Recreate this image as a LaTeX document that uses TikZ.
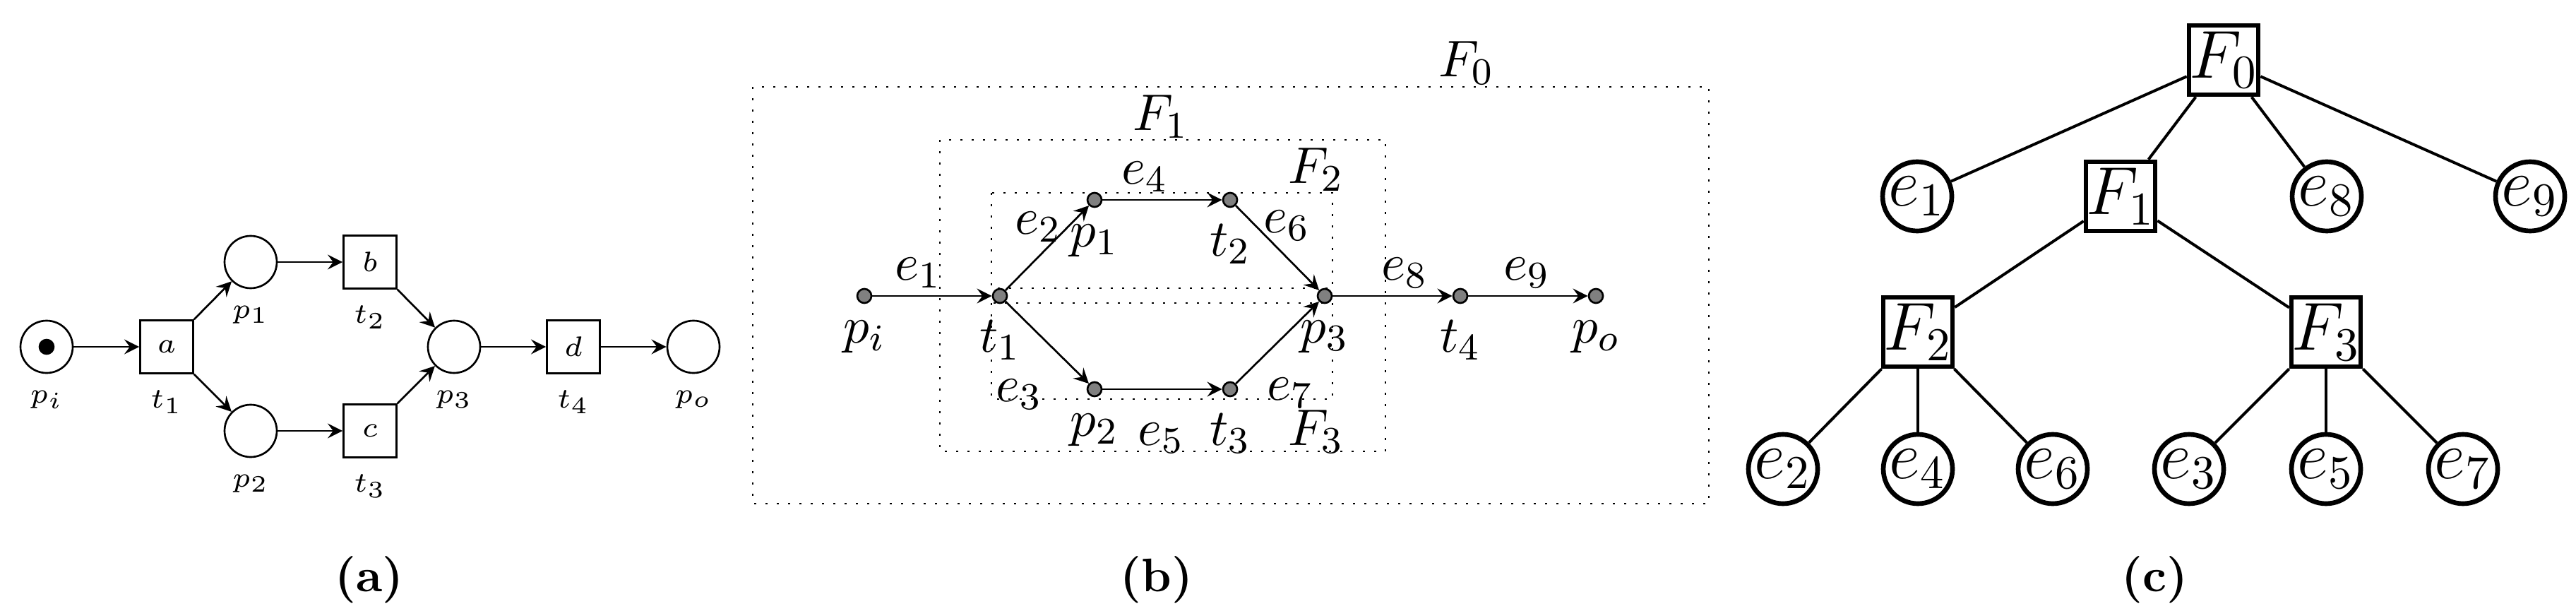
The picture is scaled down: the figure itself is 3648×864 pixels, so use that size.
\documentclass[tikz,border=0pt]{standalone}
\usetikzlibrary{arrows,scopes}
\begin{document}
\begin{tikzpicture}[
    x=0.15pt,y=-0.15pt,
    >=stealth,
    place/.style={circle,draw,thin,minimum size=11.1pt,inner sep=0pt},
    trans/.style={rectangle,draw,thin,minimum size=11.25pt,inner sep=0pt,font=\fontsize{6.5}{8}\selectfont},
    lblA/.style={font=\fontsize{6.2}{7}\selectfont},
    dot/.style={circle,draw,fill=gray,minimum size=3pt,inner sep=0pt,thin},
    lblB/.style={font=\fontsize{11}{13}\selectfont},
    frag/.style={draw,dotted,thin},
    fnode/.style={rectangle,draw,line width=1pt,minimum size=14.7pt,inner sep=0pt,font=\fontsize{14}{17}\selectfont},
    enode/.style={circle,draw,line width=1pt,minimum size=14.7pt,inner sep=0pt,font=\fontsize{14}{17}\selectfont},
    caption/.style={font=\fontsize{10}{12}\selectfont\bfseries},
    ]
\useasboundingbox (0,0) rectangle (3648,864);

    %% (a) Petri net
    \node[place,label={[lblA]below:$p_i$}] (pi) at (66,491) {};
    \fill (pi) circle (1.7pt);
    \node[trans,label={[lblA]below:$t_1$}] (t1) at (236,491) {$a$};
    \node[place,label={[lblA]below:$p_1$}] (p1) at (355,371) {};
    \node[place,label={[lblA]below:$p_2$}] (p2) at (355,610) {};
    \node[trans,label={[lblA]below:$t_2$}] (t2) at (524,371) {$b$};
    \node[trans,label={[lblA]below:$t_3$}] (t3) at (524,610) {$c$};
    \node[place,label={[lblA]below:$p_3$}] (p3) at (643,491) {};
    \node[trans,label={[lblA]below:$t_4$}] (t4) at (812,491) {$d$};
    \node[place,label={[lblA]below:$p_o$}] (po) at (982,491) {};
    {[->,thin]
        \draw (pi) -- (t1);
        \draw (t1.north east) -- (p1);
        \draw (t1.south east) -- (p2);
        \draw (p1) -- (t2);
        \draw (p2) -- (t3);
        \draw (t2.south east) -- (p3);
        \draw (t3.north east) -- (p3);
        \draw (p3) -- (t4);
        \draw (t4) -- (po);
    }
    \node[caption] (capA) at (523,821) {(a)};

    %% (b) Fragments
    \draw[frag] (1066,123) rectangle (2420,713);
    \draw[frag] (1331,198) rectangle (1962,639);
    \draw[frag] (1404,273) rectangle (1887,408);
    \draw[frag] (1404,429) rectangle (1887,565);
    \node[lblB] (F0) at (2077,89) {$F_0$};
    \node[lblB] (F1) at (1644,165) {$F_1$};
    \node[lblB] (F2) at (1864,240) {$F_2$};
    \node[lblB] (F3) at (1864,611) {$F_3$};

    \node[dot,label={[lblB]below:$p_i$}] (bpi) at (1224,419) {};
    \node[dot,label={[lblB]below:$t_1$}] (bt1) at (1416,419) {};
    \node[dot,label={[lblB]below:$p_1$}] (bp1) at (1550,283) {};
    \node[dot,label={[lblB]below:$t_2$}] (bt2) at (1742,283) {};
    \node[dot,label={[lblB]below:$p_2$}] (bp2) at (1550,551) {};
    \node[dot,label={[lblB]below:$t_3$}] (bt3) at (1742,551) {};
    \node[dot,label={[lblB]below:$p_3$}] (bp3) at (1876,419) {};
    \node[dot,label={[lblB]below:$t_4$}] (bt4) at (2068,419) {};
    \node[dot,label={[lblB]below:$p_o$}] (bpo) at (2260,419) {};
    {[->,thin]
        \draw (bpi) -- (bt1);
        \draw (bt1) -- (bp1);
        \draw (bt1) -- (bp2);
        \draw (bp1) -- (bt2);
        \draw (bp2) -- (bt3);
        \draw (bt2) -- (bp3);
        \draw (bt3) -- (bp3);
        \draw (bp3) -- (bt4);
        \draw (bt4) -- (bpo);
    }
    % Edge names
    \node[lblB] (e1) at (1300,386) {$e_1$};
    \node[lblB] (e2) at (1470,321) {$e_2$};
    \node[lblB] (e3) at (1443,558) {$e_3$};
    \node[lblB] (e4) at (1621,250) {$e_4$};
    \node[lblB] (e5) at (1644,620) {$e_5$};
    \node[lblB] (e6) at (1822,319) {$e_6$};
    \node[lblB] (e7) at (1827,556) {$e_7$};
    \node[lblB] (e8) at (1989,386) {$e_8$};
    \node[lblB] (e9) at (2162,386) {$e_9$};
    \node[caption] (capB) at (1638,821) {(b)};

    %% (c) Fragment tree
    \node[fnode] (cF0) at (3149,85) {$F_0$};
    \node[fnode] (cF1) at (3003,278) {$F_1$};
    \node[fnode] (cF2) at (2716,470) {$F_2$};
    \node[fnode] (cF3) at (3294,470) {$F_3$};
    \node[enode] (ce1) at (2715,278) {$e_1$};
    \node[enode] (ce8) at (3295,278) {$e_8$};
    \node[enode] (ce9) at (3583,278) {$e_9$};
    \node[enode] (ce2) at (2525,664) {$e_2$};
    \node[enode] (ce4) at (2716,664) {$e_4$};
    \node[enode] (ce6) at (2907,664) {$e_6$};
    \node[enode] (ce3) at (3100,664) {$e_3$};
    \node[enode] (ce5) at (3294,664) {$e_5$};
    \node[enode] (ce7) at (3488,664) {$e_7$};
    {[line width=0.6pt]
        \foreach \c in {ce1,cF1,ce8,ce9} \draw (cF0) -- (\c);
        \foreach \c in {cF2,cF3} \draw (cF1) -- (\c);
        \foreach \c in {ce2,ce4,ce6} \draw (cF2) -- (\c);
        \foreach \c in {ce3,ce5,ce7} \draw (cF3) -- (\c);
    }
    \node[caption] (capC) at (3051,821) {(c)};
\end{tikzpicture}
\end{document}
